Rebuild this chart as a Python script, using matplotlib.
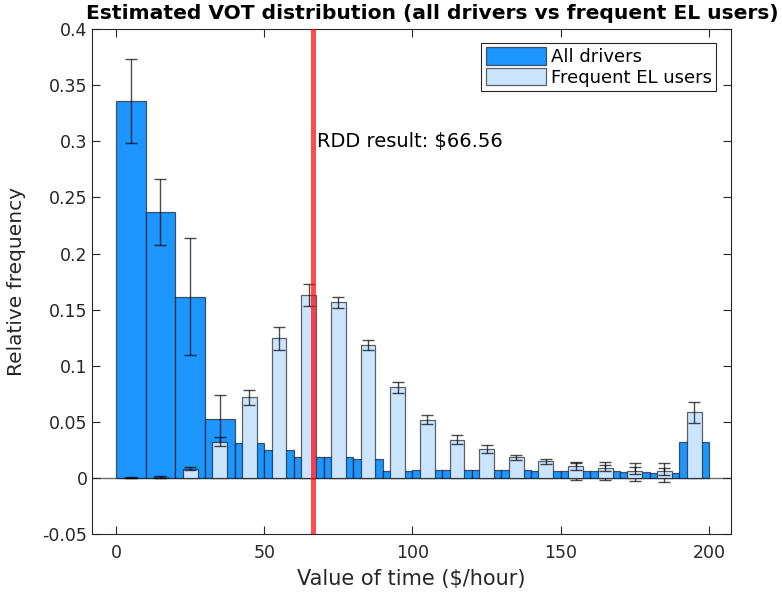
import numpy as np
import matplotlib
matplotlib.use('Agg')
import matplotlib.pyplot as plt

# bin centers ($/hour)
centers = [5, 15, 25, 35, 45, 55, 65, 75, 85, 95, 105, 115, 125, 135, 145, 155, 165, 175, 185, 195]

# all drivers
all_vals = [0.336, 0.237, 0.1616, 0.0523, 0.0309, 0.025, 0.0186, 0.019, 0.0175, 0.0066,
            0.0075, 0.0075, 0.007, 0.007, 0.0068, 0.0065, 0.0065, 0.0055, 0.0049, 0.0326]
all_err = [0.0375, 0.0296, 0.052, 0.022, 0.004, 0.004, 0.004, 0.004, 0.004, 0.003,
           0.003, 0.003, 0.003, 0.003, 0.003, 0.0079, 0.0079, 0.0079, 0.0085, 0.004]

# frequent EL users
el_vals = [0.0005, 0.001, 0.0086, 0.0326, 0.0722, 0.1244, 0.1631, 0.1565, 0.1185, 0.0808,
           0.052, 0.0344, 0.0258, 0.0184, 0.0152, 0.0104, 0.009, 0.0065, 0.006, 0.0588]
el_err = [0.0003, 0.0005, 0.0012, 0.0037, 0.0067, 0.010, 0.0094, 0.0047, 0.0043, 0.005,
          0.0042, 0.0039, 0.0033, 0.0025, 0.0022, 0.003, 0.003, 0.003, 0.003, 0.0093]

rdd_vot = 66.56

txtc = '#262626'
plt.rcParams['font.family'] = 'DejaVu Sans'

fig = plt.figure(figsize=(7.82, 5.93), dpi=100)
ax = fig.add_axes([0.118, 0.099, 0.817, 0.852])

ax.bar(centers, all_vals, 10, facecolor='#1e96ff', edgecolor=(0, 0, 0, 0.6), lw=0.9,
       label='All drivers', zorder=2)
ax.errorbar(centers, all_vals, yerr=all_err, fmt='none', ecolor=(0, 0, 0, 0.7), elinewidth=1.0,
            capsize=4.2, capthick=1.0, zorder=3)
ax.bar(centers, el_vals, 5, facecolor='#cce5ff', edgecolor=(0, 0, 0, 0.6), lw=0.9,
       label='Frequent EL users', zorder=4)
ax.errorbar(centers, el_vals, yerr=el_err, fmt='none', ecolor=(0, 0, 0, 0.7), elinewidth=1.0,
            capsize=4.2, capthick=1.0, zorder=5)

ax.axhline(0, color='#707070', lw=1.0, zorder=1.5)
ax.axvline(rdd_vot, color=(1, 0, 0, 0.7), lw=3.6, zorder=6)
ax.text(rdd_vot + 1.2, 0.30, 'RDD result: \\$%.2f' % rdd_vot, fontsize=14, color='k',
        va='center', ha='left', zorder=7)

ax.set_xlim(-8, 207.5)
ax.set_ylim(-0.05, 0.4)
ax.set_xticks([0, 50, 100, 150, 200])
ax.set_yticks(np.arange(-0.05, 0.401, 0.05))
ax.set_yticklabels(['-0.05', '0', '0.05', '0.1', '0.15', '0.2', '0.25', '0.3', '0.35', '0.4'])
ax.tick_params(direction='in', length=6, width=0.8, colors=txtc, labelsize=12.5,
               top=True, right=True)
ax.tick_params(axis='x', pad=7)
for s in ax.spines.values():
  s.set_color(txtc)
  s.set_linewidth(0.8)

ax.set_xlabel('Value of time (\\$/hour)', fontsize=15, color=txtc, labelpad=5)
ax.set_ylabel('Relative frequency', fontsize=14.5, color=txtc, labelpad=12)
ax.set_title('Estimated VOT distribution (all drivers vs frequent EL users)', fontsize=14.6,
             fontweight='bold', color='k', pad=7, x=0.533)

leg = ax.legend(loc='upper right', fontsize=13, fancybox=False, framealpha=1, edgecolor=txtc,
                handlelength=3.3, handleheight=1.1, borderpad=0.25, labelspacing=0.1,
                handletextpad=0.3, borderaxespad=0, bbox_to_anchor=(0.977, 0.973))
leg.get_frame().set_linewidth(0.8)

fig.savefig('out.png', dpi=100)
